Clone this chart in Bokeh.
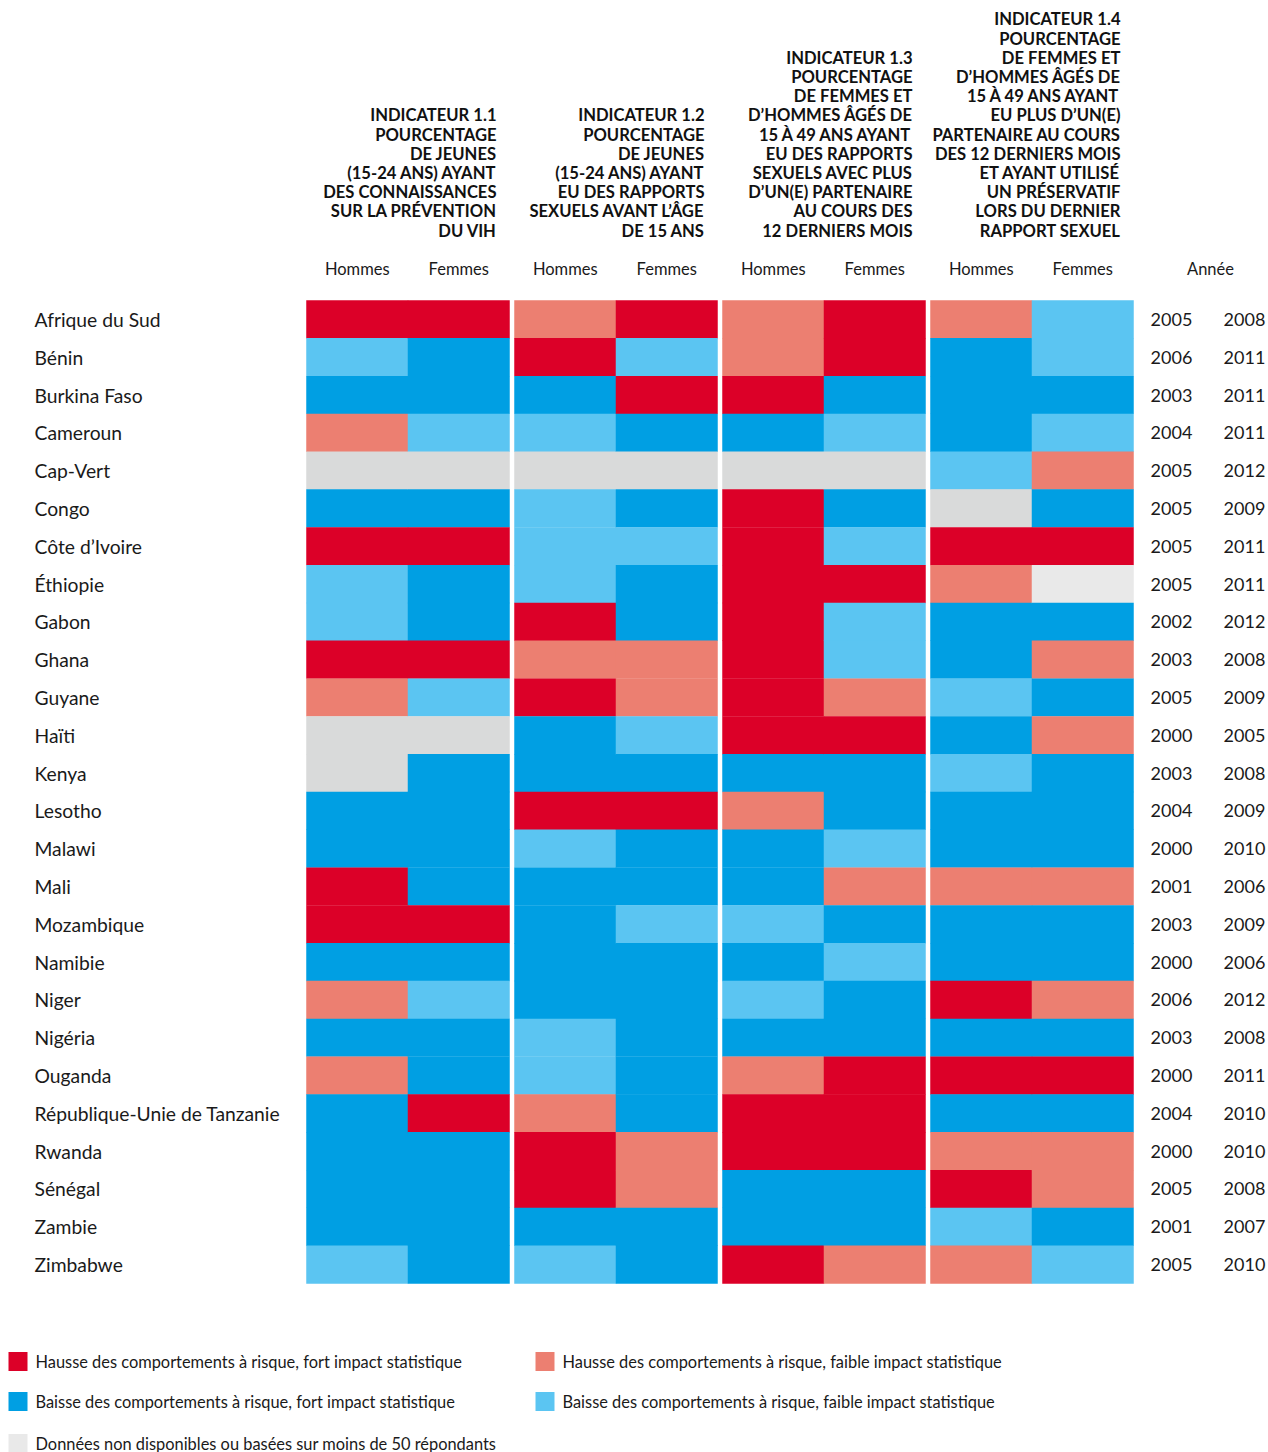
from bokeh.plotting import figure
from bokeh.models import Range1d, ColumnDataSource
from bokeh.core.properties import value
from bokeh.embed import file_html
from bokeh.resources import INLINE

# ---------------- data ----------------
countries = ["Afrique du Sud", "Bénin", "Burkina Faso", "Cameroun", "Cap-Vert", "Congo",
             "Côte d’Ivoire", "Éthiopie", "Gabon", "Ghana", "Guyane", "Haïti", "Kenya",
             "Lesotho", "Malawi", "Mali", "Mozambique", "Namibie", "Niger", "Nigéria",
             "Ouganda", "République-Unie de Tanzanie", "Rwanda", "Sénégal", "Zambie", "Zimbabwe"]
year_start = [2005, 2006, 2003, 2004, 2005, 2005, 2005, 2005, 2002, 2003, 2005, 2000, 2003,
              2004, 2000, 2001, 2003, 2000, 2006, 2003, 2000, 2004, 2000, 2005, 2001, 2005]
year_end = [2008, 2011, 2011, 2011, 2012, 2009, 2011, 2011, 2012, 2008, 2009, 2005, 2008,
            2009, 2010, 2006, 2009, 2006, 2012, 2008, 2011, 2010, 2010, 2008, 2007, 2010]

# codes: R = hausse fort, S = hausse faible, B = baisse fort, L = baisse faible,
#        G = données non disponibles, W = non disponible (clair)
ind_1_1_h = ["R","L","B","S","G","B","R","L","L","R","S","G","G","B","B","R","R","B","S","B","S","B","B","B","B","L"]
ind_1_1_f = ["R","B","B","L","G","B","R","B","B","R","L","G","B","B","B","B","R","B","L","B","B","R","B","B","B","B"]
ind_1_2_h = ["S","R","B","L","G","L","L","L","R","S","R","B","B","R","L","B","B","B","B","L","L","S","R","R","B","L"]
ind_1_2_f = ["R","L","R","B","G","B","L","B","B","S","S","L","B","R","B","B","L","B","B","B","B","B","S","S","B","B"]
ind_1_3_h = ["S","S","R","B","G","R","R","R","R","R","R","R","B","S","B","B","L","B","L","B","S","R","R","B","B","R"]
ind_1_3_f = ["R","R","B","L","G","B","L","R","L","L","S","R","B","B","L","S","B","L","B","B","R","R","R","B","B","S"]
ind_1_4_h = ["S","B","B","B","L","G","R","S","B","B","L","B","L","B","B","S","B","B","R","B","R","B","S","R","L","S"]
ind_1_4_f = ["L","L","B","L","S","B","R","W","B","S","B","S","B","B","B","S","B","B","S","B","R","B","S","S","B","L"]

col_labels = ["Hommes", "Femmes"] * 4
headers = [
    ["INDICATEUR 1.1", "POURCENTAGE", "DE JEUNES", "(15-24 ANS) AYANT",
     "DES CONNAISSANCES", "SUR LA PRÉVENTION", "DU VIH"],
    ["INDICATEUR 1.2", "POURCENTAGE", "DE JEUNES", "(15-24 ANS) AYANT",
     "EU DES RAPPORTS", "SEXUELS AVANT L’ÂGE", "DE 15 ANS"],
    ["INDICATEUR 1.3", "POURCENTAGE", "DE FEMMES ET", "D’HOMMES ÂGÉS DE",
     "15 À 49 ANS AYANT", "EU DES RAPPORTS", "SEXUELS AVEC PLUS",
     "D’UN(E) PARTENAIRE", "AU COURS DES", "12 DERNIERS MOIS"],
    ["INDICATEUR 1.4", "POURCENTAGE", "DE FEMMES ET", "D’HOMMES ÂGÉS DE",
     "15 À 49 ANS AYANT", "EU PLUS D’UN(E)", "PARTENAIRE AU COURS",
     "DES 12 DERNIERS MOIS", "ET AYANT UTILISÉ", "UN PRÉSERVATIF",
     "LORS DU DERNIER", "RAPPORT SEXUEL"],
]
legend_codes = ["R", "S", "B", "L", "W"]
legend_labels = ["Hausse des comportements à risque, fort impact statistique",
                 "Hausse des comportements à risque, faible impact statistique",
                 "Baisse des comportements à risque, fort impact statistique",
                 "Baisse des comportements à risque, faible impact statistique",
                 "Données non disponibles ou basées sur moins de 50 répondants"]
colors = {"R": "#DC0028", "S": "#EC7F71", "B": "#009FE3", "L": "#5BC5F2",
          "G": "#D9DADA", "W": "#E9E9E9"}

# ---------------- layout ----------------
W, H = 1268, 1452
p = figure(width=W, height=H, output_backend="svg", toolbar_location=None,
           x_range=Range1d(0, W), y_range=Range1d(H, 0),
           min_border=0)
p.axis.visible = False
p.grid.visible = False
p.outline_line_color = None
p.background_fill_color = "white"

FONT = value("Lato")
TXT = "#1a1a1a"

col_w = 101.5
grp_pitch = 208
x0 = 306
row_top = 300
row_h = (1283 - 300) / len(countries)

columns = [ind_1_1_h, ind_1_1_f, ind_1_2_h, ind_1_2_f, ind_1_3_h, ind_1_3_f, ind_1_4_h, ind_1_4_f]

def col_left(c):
    return x0 + (c // 2) * grp_pitch + (c % 2) * col_w

xs, ys, fills = [], [], []
for c, col in enumerate(columns):
    for r, code in enumerate(col):
        xs.append(col_left(c) + col_w / 2)
        ys.append(row_top + row_h * (r + 0.5))
        fills.append(colors[code])
p.rect(x="x", y="y", width=col_w + 0.5, height=row_h + 0.4, fill_color="c", line_color=None,
       source=ColumnDataSource(dict(x=xs, y=ys, c=fills)))

# country names & years
row_y = [row_top + row_h * (r + 0.5) for r in range(len(countries))]
p.text(x=[34] * len(countries), y=row_y, text=countries, text_font=FONT,
       text_font_size="19.3px", text_baseline="middle", text_color=TXT)
p.text(x=[1171] * len(countries), y=row_y, text=[str(v) for v in year_start], text_font=FONT,
       text_font_size="18px", text_baseline="middle", text_align="center", text_color=TXT)
p.text(x=[1244] * len(countries), y=row_y, text=[str(v) for v in year_end], text_font=FONT,
       text_font_size="18px", text_baseline="middle", text_align="center", text_color=TXT)

# column sub headers
p.text(x=[col_left(c) + col_w / 2 for c in range(8)], y=[268] * 8, text=col_labels,
       text_font=FONT, text_font_size="16.5px", text_baseline="middle", text_align="center",
       text_color=TXT)
p.text(x=[1210], y=[268], text=["Année"], text_font=FONT, text_font_size="16.5px",
       text_baseline="middle", text_align="center", text_color=TXT)

# indicator headers (bottom aligned, right aligned)
line_h = 19.2
hx, hy, ht = [], [], []
for g, lines in enumerate(headers):
    right = x0 + g * grp_pitch + 2 * col_w - 13
    n = len(lines)
    for i, t in enumerate(lines):
        hx.append(right)
        hy.append(230 - (n - 1 - i) * line_h)
        ht.append(t)
p.text(x=hx, y=hy, text=ht, text_font=FONT, text_font_size="16.6px", text_font_style="bold",
       text_baseline="middle", text_align="right", text_color="#111111")

# legend
leg_x = [8, 535, 8, 535, 8]
leg_y = [1361, 1361, 1401, 1401, 1443]
p.rect(x=[x + 9.5 for x in leg_x], y=leg_y, width=19, height=19,
       fill_color=[colors[c] for c in legend_codes], line_color=None)
p.text(x=[x + 27 for x in leg_x], y=leg_y, text=legend_labels, text_font=FONT,
       text_font_size="16.4px", text_baseline="middle", text_color=TXT)

open("out.html", "w").write(file_html(p, INLINE))
